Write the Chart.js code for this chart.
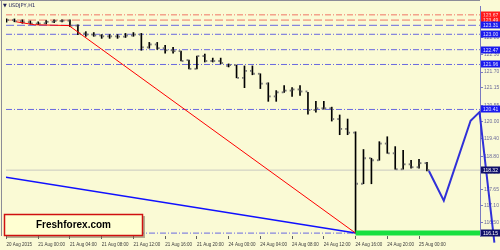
<!DOCTYPE html>
<html><head><meta charset="utf-8">
<script src="https://cdn.jsdelivr.net/npm/chart.js@4/dist/chart.umd.min.js"></script>
<style>html,body{margin:0;padding:0;background:#fafad5;overflow:hidden}canvas{display:block}</style>
</head><body>
<canvas id="c" width="500" height="250"></canvas>
<script>
// ---- data (hourly bars, 20 Aug 2015 20:00 .. 25 Aug 2015 01:00) ----
const xTickIndex = [0,4,8,12,16,20,24,28,32,36,40,44,48,52];
const xTickLabels = ["20 Aug 2015","21 Aug 00:00","21 Aug 04:00","21 Aug 08:00","21 Aug 12:00","21 Aug 16:00","21 Aug 20:00","24 Aug 00:00","24 Aug 04:00","24 Aug 08:00","24 Aug 12:00","24 Aug 16:00","24 Aug 20:00","25 Aug 00:00"];
const yTickValues = [122.88,122.30,121.70,121.15,120.55,120.00,119.40,118.80,118.25,117.65,117.10,116.50];

const opens  = [123.48,123.49,123.45,123.42,123.37,123.38,123.43,123.46,123.47,123.30,123.03,122.99,122.96,122.93,122.93,122.92,122.96,122.99,122.55,122.65,122.52,122.45,122.42,122.11,121.81,122.25,122.08,122.08,121.91,121.94,121.50,121.74,121.64,121.30,120.86,121.00,121.06,121.10,121.03,120.39,120.45,120.45,120.08,119.74,119.61,117.85,118.73,118.66,119.235,118.90,118.35,118.52,118.42,118.56];
const highs  = [123.53,123.53,123.50,123.46,123.43,123.47,123.50,123.50,123.50,123.33,123.09,123.06,122.99,122.99,122.99,123.03,123.06,123.03,122.72,122.72,122.62,122.55,122.42,122.11,122.25,122.32,122.18,122.18,121.98,121.94,121.91,121.91,121.64,121.33,121.06,121.23,121.16,121.23,121.00,120.69,120.69,120.49,120.22,120.08,119.64,119.03,118.73,119.30,119.47,119.13,119.00,118.66,118.69,118.59];
const lows   = [123.42,123.43,123.38,123.35,123.33,123.36,123.40,123.43,123.26,122.99,122.93,122.93,122.86,122.86,122.86,122.89,122.93,122.45,122.52,122.48,122.35,122.35,122.08,121.81,121.81,122.045,122.045,121.98,121.875,121.50,121.16,121.605,121.13,120.69,120.69,121.00,120.86,120.89,120.25,120.32,120.42,120.01,119.54,119.54,116.15,117.85,117.85,118.66,118.90,118.35,118.35,118.39,118.39,118.29];
const closes = [123.49,123.45,123.42,123.37,123.37,123.43,123.46,123.47,123.30,123.03,122.99,122.96,122.93,122.93,122.92,122.96,122.99,122.55,122.65,122.52,122.45,122.42,122.08,121.81,122.25,122.08,122.08,122.01,121.94,121.50,121.74,121.64,121.30,120.86,121.00,121.06,121.10,121.03,120.39,120.45,120.45,120.08,119.74,119.61,117.85,118.73,118.66,119.235,118.90,118.35,118.52,118.42,118.56,118.32];

const redLevels  = [123.67,123.49];
const blueLevels = [123.31,123.00,122.47,121.96,120.41];
const currentPrice = 118.32;
const lowLevel = 116.15;

// trend / projection lines (x = bar index, y = price)
const redTrendX = [1.25,3.5,7.875,44];
const redTrendY = [123.43,123.33,123.30,116.15];
const blueTrendX = [-0.25,44];
const blueTrendY = [118.08,116.15];
const projX = [53.25,55.125,58.5,59.625,61.5];
const projY = [118.29,117.27,120.02,120.32,115.82];

// ---- build ----
const X_MIN = -0.0625, X_MAX = 59.6875;
const idx = opens.map((_, i) => i);
const zip = (xs, ys) => xs.map((x, i) => ({x, y: ys[i]}));
const flat = v => [{x: X_MIN, y: v}, {x: X_MAX, y: v}];
const TICK = 0.19;

const datasets = [];
const lvl = (v, color, dash, order) => datasets.push({type:'line', data: flat(v), borderColor: color, borderWidth: 1, borderDash: dash, pointRadius: 0, order});
lvl(redLevels[0], '#f07565', [6,2,1,2], 20);
lvl(redLevels[1], '#f07565', [8,3], 20);
lvl(blueLevels[0], '#6868e0', [8,3], 20);
blueLevels.slice(1).forEach(v => lvl(v, '#6868e0', [6,2,1,2], 20));
lvl(lowLevel, '#6868e0', [6,2,1,2], 20);
datasets.push({type:'line', data: flat(currentPrice), borderColor:'#c8c8c0', borderWidth:1, pointRadius:0, order:19});

datasets.push({type:'bar', data: idx.map(i => ({x: i, y: [lows[i], highs[i]]})), backgroundColor:'#000', borderWidth:0, barThickness:1, order:8});
datasets.push({type:'line', data: idx.map(i => ({x: i - TICK, y: opens[i]})), showLine:false, pointStyle:'rect', pointRadius:1.3, pointBorderWidth:0, pointBackgroundColor:'#777', order:7});
datasets.push({type:'line', data: idx.map(i => ({x: i + TICK, y: closes[i]})), showLine:false, pointStyle:'rect', pointRadius:1.3, pointBorderWidth:0, pointBackgroundColor:'#777', order:7});

datasets.push({type:'line', data: zip(redTrendX, redTrendY), borderColor:'#ff0000', borderWidth:1, pointRadius:0, order:5});
datasets.push({type:'line', data: zip(blueTrendX, blueTrendY), borderColor:'#1010ff', borderWidth:1.5, pointRadius:0, order:5});
datasets.push({type:'line', data: [{x:44, y:lowLevel},{x:X_MAX, y:lowLevel}], borderColor:'#18e040', borderWidth:5, pointRadius:0, order:4});
datasets.push({type:'line', data: zip(projX, projY), borderColor:'#3030d8', borderWidth:2, clip:false,
  pointRadius: projX.map((_, i) => i === projX.length - 1 ? 5 : 0), pointStyle:'triangle', rotation:180,
  pointBackgroundColor:'rgba(40,40,200,0.35)', pointBorderColor:'#2020c0', pointBorderWidth:1, order:1});

const bgPlugin = {
  id: 'bg',
  beforeDraw(chart) {
    const c = chart.ctx;
    c.save(); c.fillStyle = '#fafad5'; c.fillRect(0, 0, chart.width, chart.height); c.restore();
  }
};

const overlay = {
  id: 'overlay',
  afterDraw(chart) {
    const c = chart.ctx, ys = chart.scales.y, area = chart.chartArea;
    c.save();
    // frame
    c.strokeStyle = '#8c8c98'; c.lineWidth = 1;
    c.beginPath(); c.moveTo(0, 0.5); c.lineTo(area.right, 0.5); c.moveTo(1.5, 0); c.lineTo(1.5, area.bottom); c.stroke();
    // title
    c.fillStyle = '#20205a'; c.font = '5px "DejaVu Sans"'; c.textBaseline = 'middle'; c.textAlign = 'left';
    c.fillText('\u25BC USDJPY,H1', 3, 5.5);
    // price boxes
    const box = (v, bg, fg) => {
      const y = Math.round(ys.getPixelForValue(v));
      c.fillStyle = bg; c.fillRect(481, y - 3.5, 19, 7);
      c.fillStyle = fg; c.font = '5px "Liberation Sans"'; c.textAlign = 'left'; c.textBaseline = 'middle';
      c.fillText(v.toFixed(2), 483, y + 0.5);
    };
    redLevels.forEach(v => box(v, '#ff1a1a', '#ffd8d8'));
    blueLevels.forEach(v => box(v, '#1a1aee', '#e0e0ff'));
    box(currentPrice, '#10106a', '#ffffff');
    box(lowLevel, '#10106a', '#ffffff');
    // Freshforex box
    c.fillStyle = 'rgba(120,110,90,0.55)'; c.fillRect(6, 216, 139, 22);
    c.fillStyle = '#ffffd2'; c.fillRect(4.5, 214.5, 138, 21);
    c.strokeStyle = '#d01010'; c.lineWidth = 1.5; c.strokeRect(4.5, 214.5, 138, 21);
    c.fillStyle = '#000'; c.font = 'bold 10px "Liberation Sans"'; c.textAlign = 'center'; c.textBaseline = 'middle';
    c.fillText('Freshforex.com', 73.5, 225.5);
    c.restore();
  }
};

new Chart(document.getElementById('c'), {
  type: 'bar',
  data: { datasets },
  options: {
    responsive: false, animation: false, devicePixelRatio: 1,
    layout: { padding: { left: 2, top: 2, right: 0, bottom: 0 } },
    plugins: { legend: { display: false }, tooltip: { enabled: false } },
    scales: {
      x: {
        type: 'linear', min: X_MIN, max: X_MAX, offset: false,
        afterBuildTicks: s => { s.ticks = xTickIndex.map(v => ({ value: v })); },
        afterFit: s => { s.height = 14; s.paddingLeft = 0; s.paddingRight = 0; },
        ticks: { autoSkip: false, maxRotation: 0, minRotation: 0, align: 'start', padding: 3,
          font: { size: 4.5, family: 'Liberation Sans' }, color: '#3a3a3a',
          callback: (v, i) => xTickLabels[i] },
        grid: { drawOnChartArea: false, offset: false, tickLength: 3, color: '#606060' },
        border: { display: false }
      },
      y: {
        type: 'linear', position: 'right', min: 116.05, max: 123.975,
        afterBuildTicks: s => { s.ticks = yTickValues.map(v => ({ value: v })); },
        afterFit: s => { s.width = 20; s.paddingTop = 0; s.paddingBottom = 0; },
        ticks: { padding: 1, font: { size: 5, family: 'Liberation Sans' }, color: '#6a6a9a',
          callback: v => Number(v).toFixed(2) },
        grid: { drawOnChartArea: false, tickLength: 3, color: '#7a7ac0' },
        border: { display: true, color: '#7a7ac0', width: 1 }
      }
    }
  },
  plugins: [bgPlugin, overlay]
});
</script>
</body></html>
